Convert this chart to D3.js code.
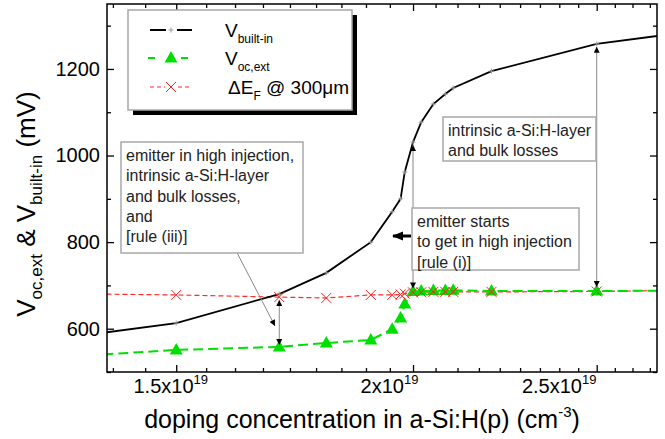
<!DOCTYPE html>
<html>
<head>
<meta charset="utf-8">
<script src="https://cdn.jsdelivr.net/npm/d3@7"></script>
<style>
body { margin: 0; background: #fff; }
text { font-family: "Liberation Sans", Arial, sans-serif; }
</style>
</head>
<body>
<script>
// values (doping in cm^-3, voltages in mV)
var doping   = [1.3e19, 1.5e19, 1.7e19, 1.8e19, 1.9e19, 1.95e19, 1.97e19, 1.98e19, 2.0e19, 2.02e19, 2.05e19, 2.08e19, 2.1e19, 2.2e19, 2.5e19, 2.8e19];
var vBuiltIn = [577, 613, 680, 729, 800, 870, 900, 962, 1031, 1077, 1119, 1142, 1156, 1195, 1258, 1286];
var vOcExt   = [534, 551, 558, 567, 574, 599, 625, 657, 686, 687, 688, 688, 689, 687, 687, 688];
var deltaEF  = [681, 678, 673, 671, 678, 678, 679, 681, 684, 684, 685, 685, 685, 685, 686, 689];

var xMajor = [1.5e19, 2e19, 2.5e19];
var xLabels = ["1.5", "2", "2.5"];
var yMajor = [600, 800, 1000, 1200];
var yMinor = [500, 700, 900, 1100, 1300];

var w = 665, h = 439;
var pL = 107, pR = 657, pT = 4, pB = 372;

var svg = d3.select("body").append("svg")
  .attr("width", w)
  .attr("height", h);

var x = d3.scaleLog().domain([1.379e19, 2.69e19]).range([pL, pR]);
var y = d3.scaleLinear().domain([500, 1350]).range([pB, pT]);

// minor x ticks: 9 steps per 0.5e19
var xMinor = d3.range(-2, 22).map(k => 1.5e19 + k * 0.5e19 / 9)
  .filter(v => v > x.domain()[0] && v < x.domain()[1] && xMajor.every(m => Math.abs(m - v) > 1e17));

var defs = svg.append("defs");
defs.append("clipPath").attr("id", "plot")
  .append("rect").attr("x", pL).attr("y", pT).attr("width", pR - pL).attr("height", pB - pT);
defs.append("marker")
  .attr("id", "ah")
  .attr("viewBox", "0 0 10 10")
  .attr("refX", 10).attr("refY", 5)
  .attr("markerUnits", "userSpaceOnUse")
  .attr("markerWidth", 8).attr("markerHeight", 6)
  .attr("orient", "auto-start-reverse")
  .append("path").attr("d", "M0,0L10,5L0,10Z").attr("fill", "#000");

var pts = d => doping.map((v, i) => [v, d[i]]);
var line = d3.line().x(d => x(d[0])).y(d => y(d[1]));

var plot = svg.append("g").attr("clip-path", "url(#plot)");

// red dE_F
plot.append("path").datum(pts(deltaEF))
  .attr("d", line).attr("fill", "none")
  .attr("stroke", "#ff2a2a").attr("stroke-width", 1.2).attr("stroke-dasharray", "5,3");
// green Voc
plot.append("path").datum(pts(vOcExt))
  .attr("d", line).attr("fill", "none")
  .attr("stroke", "#00e000").attr("stroke-width", 2).attr("stroke-dasharray", "10,5");
// black Vbi
plot.append("path").datum(pts(vBuiltIn))
  .attr("d", line).attr("fill", "none")
  .attr("stroke", "#000").attr("stroke-width", 1.8);

var tri = "M0,-7L6.5,4.5L-6.5,4.5Z";
var cross = "M-5,-5L5,5M-5,5L5,-5";
var plus = "M-2.5,0L2.5,0M0,-2.5L0,2.5";

plot.selectAll(".tri").data(pts(vOcExt)).join("path")
  .attr("transform", d => `translate(${x(d[0])},${y(d[1])})`)
  .attr("d", tri).attr("fill", "#00e000");
plot.selectAll(".cross").data(pts(deltaEF)).join("path")
  .attr("transform", d => `translate(${x(d[0])},${y(d[1])})`)
  .attr("d", cross).attr("stroke", "#ff2020").attr("stroke-width", 1).attr("fill", "none");
plot.selectAll(".plus").data(pts(vBuiltIn)).join("path")
  .attr("transform", d => `translate(${x(d[0])},${y(d[1])})`)
  .attr("d", plus).attr("stroke", "#999").attr("stroke-width", 1);

// axes
function clean(g) { g.select(".domain").remove(); g.selectAll("line").attr("stroke", "#000").attr("stroke-width", 1.3); }

var gx = svg.append("g").attr("transform", `translate(0,${pB})`)
  .call(d3.axisBottom(x).tickValues(xMajor).tickSize(-7).tickPadding(7).tickFormat(() => ""))
  .call(clean);
var shift = {1.5e19: -6, 2e19: -24, 2.5e19: -38};
gx.selectAll(".tick text")
  .attr("font-size", 20).attr("fill", "#000").attr("dx", d => shift[d])
  .each(function(d, i) {
    var t = d3.select(this);
    t.append("tspan").text(xLabels[i] + "x10");
    t.append("tspan").attr("dy", -9).attr("font-size", 13).text("19");
  });
svg.append("g").attr("transform", `translate(0,${pB})`)
  .call(d3.axisBottom(x).tickValues(xMinor).tickSize(-4).tickFormat(""))
  .call(clean);
svg.append("g").attr("transform", `translate(0,${pT})`)
  .call(d3.axisTop(x).tickValues(xMajor).tickSize(-7).tickFormat(""))
  .call(clean);
svg.append("g").attr("transform", `translate(0,${pT})`)
  .call(d3.axisTop(x).tickValues(xMinor).tickSize(-4).tickFormat(""))
  .call(clean);

svg.append("g").attr("transform", `translate(${pL},0)`)
  .call(d3.axisLeft(y).tickValues(yMajor).tickSize(-7).tickPadding(7).tickFormat(d3.format("d")))
  .call(clean)
  .selectAll("text").attr("font-size", 20).attr("fill", "#000");
svg.append("g").attr("transform", `translate(${pL},0)`)
  .call(d3.axisLeft(y).tickValues(yMinor).tickSize(-4).tickFormat(""))
  .call(clean);
svg.append("g").attr("transform", `translate(${pR},0)`)
  .call(d3.axisRight(y).tickValues(yMajor).tickSize(-7).tickFormat(""))
  .call(clean);
svg.append("g").attr("transform", `translate(${pR},0)`)
  .call(d3.axisRight(y).tickValues(yMinor).tickSize(-4).tickFormat(""))
  .call(clean);

svg.append("rect")
  .attr("x", pL).attr("y", pT).attr("width", pR - pL).attr("height", pB - pT)
  .attr("fill", "none").attr("stroke", "#000").attr("stroke-width", 1.5);

// axis titles
var xt = svg.append("text").attr("x", 362).attr("y", 428)
  .attr("text-anchor", "middle").attr("font-size", 25);
xt.append("tspan").text("doping concentration in a-Si:H(p) (cm");
xt.append("tspan").attr("dy", -11).attr("font-size", 15).text("-3");
xt.append("tspan").attr("dy", 11).text(")");

var yt = svg.append("text").attr("transform", "translate(35,204) rotate(-90)")
  .attr("text-anchor", "middle").attr("font-size", 26);
yt.append("tspan").text("V");
yt.append("tspan").attr("dy", 7).attr("font-size", 17).text("oc,ext");
yt.append("tspan").attr("dy", -7).text(" & V");
yt.append("tspan").attr("dy", 7).attr("font-size", 17).text("built-in");
yt.append("tspan").attr("dy", -7).text(" (mV)");

// annotations
function box(x0, y0, bw, bh, lines) {
  svg.append("rect").attr("x", x0).attr("y", y0).attr("width", bw).attr("height", bh)
    .attr("fill", "#fff").attr("stroke", "#a8a8a8").attr("stroke-width", 1.5);
  svg.append("g").selectAll("text").data(lines).join("text")
    .attr("x", x0 + 5).attr("y", (d, i) => y0 + 19 + i * 20.3)
    .attr("font-size", 16).attr("fill", "#222").text(d => d);
}
function arrow(x1, y1, x2, y2, both) {
  svg.append("line").attr("x1", x1).attr("y1", y1).attr("x2", x2).attr("y2", y2)
    .attr("stroke", "#888").attr("stroke-width", 1)
    .attr("marker-end", "url(#ah)")
    .attr("marker-start", both ? "url(#ah)" : null);
}

// right annotation
arrow(x(2.5e19), y(1258) + 3, x(2.5e19), y(687) - 4, true);
box(443, 117, 153, 44, ["intrinsic a-Si:H-layer", "and bulk losses"]);

// middle annotation
arrow(x(2e19), y(1031) + 3, x(2e19), y(686) - 3, true);
box(412, 208, 167, 62, ["emitter starts", "to get in high injection", "[rule (i)]"]);
svg.append("line").attr("x1", 411).attr("y1", 236).attr("x2", 393).attr("y2", 236)
  .attr("stroke", "#000").attr("stroke-width", 3);
svg.append("path").attr("d", "M392,236L403,231.5L403,240.5Z").attr("fill", "#000");

// left annotation
arrow(x(1.7e19), y(680) + 6, x(1.7e19), y(558) - 2, true);
arrow(232, 243, 275, 326, false);
box(121, 142, 182, 111, ["emitter in high injection,", "intrinsic a-Si:H-layer", "and bulk losses,", "and", "[rule (iii)]"]);

// legend
var legendNames = [["V", "built-in"], ["V", "oc,ext"], ["\u0394E", "F", " @ 300\u03bcm"]];
svg.append("rect").attr("x", 133).attr("y", 15).attr("width", 224).attr("height", 100).attr("fill", "#000");
svg.append("rect").attr("x", 128).attr("y", 10).attr("width", 224).attr("height", 100)
  .attr("fill", "#fff").attr("stroke", "#a8a8a8").attr("stroke-width", 1.5);

var rowY = [30, 58, 87];
var lg = svg.append("g");
// black sample
lg.append("path").attr("d", `M150,${rowY[0]}H166M177,${rowY[0]}H192`).attr("stroke", "#000").attr("stroke-width", 2);
lg.append("path").attr("transform", `translate(171,${rowY[0]})`).attr("d", plus).attr("stroke", "#999");
// green sample
lg.append("path").attr("d", `M148,${rowY[1]}H155M181,${rowY[1]}H188`).attr("stroke", "#00e000").attr("stroke-width", 2);
lg.append("path").attr("transform", `translate(171,${rowY[1]})`).attr("d", tri).attr("fill", "#00e000");
// red sample
lg.append("path").attr("d", `M150,${rowY[2]}H192`).attr("stroke", "#ff2a2a").attr("stroke-dasharray", "4,3").attr("fill", "none");
lg.append("rect").attr("x", 165).attr("y", rowY[2] - 6).attr("width", 12).attr("height", 12).attr("fill", "#fff");
lg.append("path").attr("transform", `translate(171,${rowY[2]})`).attr("d", cross).attr("stroke", "#ff2020").attr("fill", "none");

legendNames.forEach(function(n, i) {
  var t = lg.append("text").attr("x", i == 2 ? 228 : 225).attr("y", rowY[i] + 7).attr("font-size", 19);
  t.append("tspan").text(n[0]);
  t.append("tspan").attr("dy", 6).attr("font-size", 12).text(n[1]);
  if (n[2]) t.append("tspan").attr("dy", -6).text(n[2]);
});
</script>
</body>
</html>
